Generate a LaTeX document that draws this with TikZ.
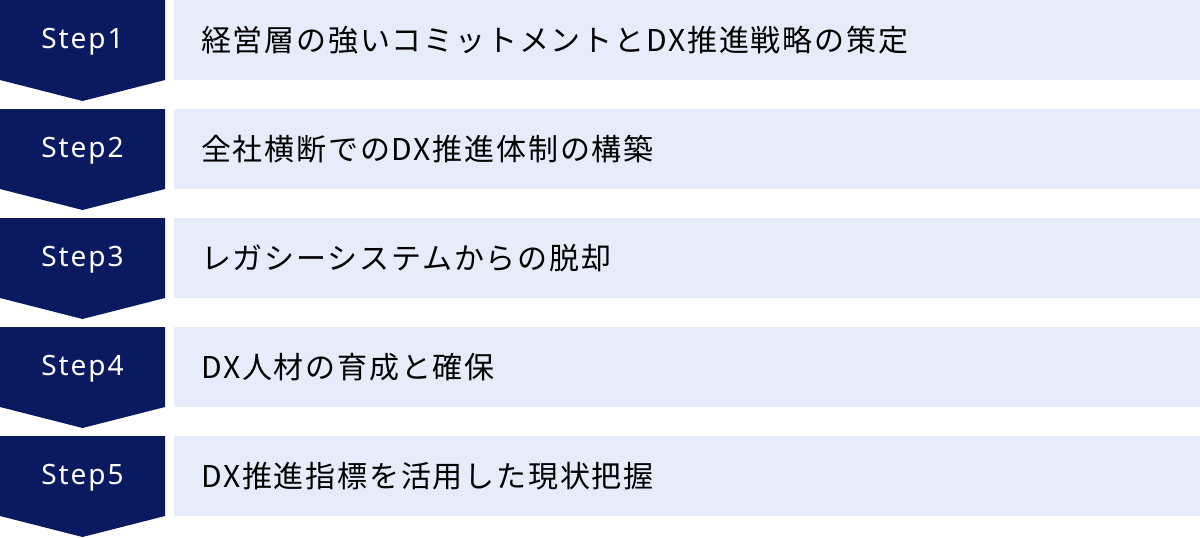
\documentclass[tikz,border=0pt]{standalone}
\usepackage{fontspec}
\setmainfont{Noto Sans CJK JP}[LetterSpace=6]
\newfontfamily\stepfont{Noto Sans}[LetterSpace=7]
\usetikzlibrary{positioning}

\definecolor{navy}{HTML}{0A1A60}
\definecolor{paleblue}{HTML}{E6ECF9}

\begin{document}
\begin{tikzpicture}[
    x=1pt, y=-1pt,
    chev/.style={fill=navy},
    steplabel/.style={text=white, font=\stepfont\fontsize{28}{32}\selectfont},
    box/.style={fill=paleblue, anchor=north west, minimum width=1026pt, minimum height=80pt,
                text width=972pt, inner xsep=27pt, align=left, font=\fontsize{30}{36}\selectfont}
]

    \useasboundingbox (0,0) rectangle (1200,538);

    % --- Step 1 ---
    \fill[chev] (0,0) -- (165,0) -- (165,80) -- (82.5,101) -- (0,80) -- cycle;
    \node[steplabel] (s1) at (82.5,42) {Step1};
    \node[box] (t1) at (174,0) {経営層の強いコミットメントとDX推進戦略の策定};

    % --- Step 2 ---
    \fill[chev] (0,109) -- (165,109) -- (165,189) -- (82.5,210) -- (0,189) -- cycle;
    \node[steplabel] (s2) at (82.5,151) {Step2};
    \node[box] (t2) at (174,109) {全社横断でのDX推進体制の構築};

    % --- Step 3 ---
    \fill[chev] (0,218) -- (165,218) -- (165,298) -- (82.5,319) -- (0,298) -- cycle;
    \node[steplabel] (s3) at (82.5,260) {Step3};
    \node[box] (t3) at (174,218) {レガシーシステムからの脱却};

    % --- Step 4 ---
    \fill[chev] (0,327) -- (165,327) -- (165,407) -- (82.5,428) -- (0,407) -- cycle;
    \node[steplabel] (s4) at (82.5,369) {Step4};
    \node[box] (t4) at (174,327) {DX人材の育成と確保};

    % --- Step 5 ---
    \fill[chev] (0,436) -- (165,436) -- (165,516) -- (82.5,537) -- (0,516) -- cycle;
    \node[steplabel] (s5) at (82.5,478) {Step5};
    \node[box] (t5) at (174,436) {DX推進指標を活用した現状把握};

\end{tikzpicture}
\end{document}
